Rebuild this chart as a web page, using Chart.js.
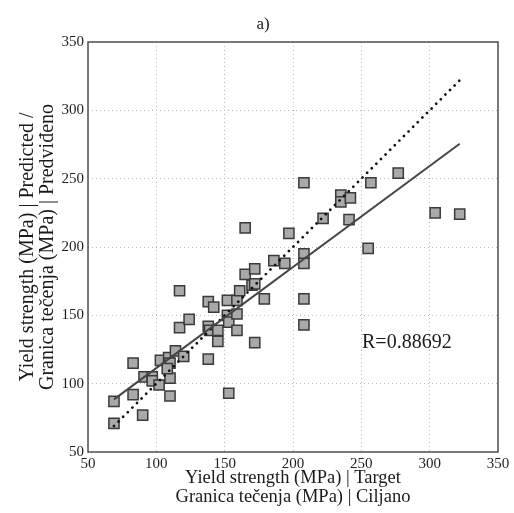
<!DOCTYPE html>
<html>
<head>
<meta charset="utf-8">
<script src="https://cdn.jsdelivr.net/npm/chart.js@4"></script>
<style>
  html, body { margin: 0; padding: 0; background: #ffffff; }
  #c { display: block; }
</style>
</head>
<body>
<canvas id="c" width="514" height="513"></canvas>
<script>
// ---- data ----
const targetX = [69,69,83,83,90,91,97,97,102,103,109,110,110,110,108,114,117,117,120,124,138,138,138,139,142,145,145,153,152,152,153,159,159,159,161,165,165,172,170,172,172,179,186,194,197,208,208,208,208,208,222,235,235,242,241,257,255,277,304,322];
const predictedY = [87,71,115,92,77,105,105,102,99,117,119,115,104,91,111,124,168,141,120,147,118,160,142,139,156,139,131,93,161,150,145,139,151,161,168,180,214,184,172,173,130,162,190,188,210,247,195,188,162,143,221,238,233,236,220,247,199,254,225,224];
const fitLineX = [69, 322];
const fitLineY = [88.5, 275.5];
const idealLineX = [69, 322];
const idealLineY = [69, 322];
const tickValues = [50, 100, 150, 200, 250, 300, 350];
const panelTitle = 'a)';
const rLabel = 'R=0.88692';
const rLabelPos = [250.5, 126];
const xTitle = ['Yield strength (MPa) | Target', 'Granica tečenja (MPa) | Ciljano'];
const yTitle = ['Yield strength (MPa) | Predicted /', 'Granica tečenja (MPa) | Predviđeno'];

const serif = "'Liberation Serif', 'DejaVu Serif', serif";

const points = targetX.map((x, i) => ({ x: x, y: predictedY[i] }));
const fitLine = fitLineX.map((x, i) => ({ x: x, y: fitLineY[i] }));
const idealLine = idealLineX.map((x, i) => ({ x: x, y: idealLineY[i] }));

const decorPlugin = {
  id: 'decor',
  afterDatasetsDraw(chart) {
    const ctx = chart.ctx;
    const a = chart.chartArea;
    ctx.save();
    ctx.strokeStyle = '#505050';
    ctx.lineWidth = 1.5;
    ctx.strokeRect(a.left, a.top, a.right - a.left, a.bottom - a.top);
    ctx.fillStyle = '#1a1a1a';
    ctx.font = '20px ' + serif;
    ctx.textBaseline = 'alphabetic';
    ctx.textAlign = 'left';
    ctx.fillText(rLabel, chart.scales.x.getPixelForValue(rLabelPos[0]), chart.scales.y.getPixelForValue(rLabelPos[1]));
    ctx.font = '17px ' + serif;
    ctx.textAlign = 'center';
    ctx.fillText(panelTitle, 263, 29);
    ctx.restore();
  }
};

new Chart(document.getElementById('c'), {
  data: {
    datasets: [
      {
        type: 'line',
        data: fitLine,
        borderColor: '#454545',
        borderWidth: 2,
        pointRadius: 0,
        fill: false,
        order: 0
      },
      {
        type: 'line',
        data: idealLine,
        borderColor: '#111111',
        borderWidth: 2.8,
        borderDash: [0.01, 6.5],
        borderCapStyle: 'round',
        pointRadius: 0,
        fill: false,
        order: 0
      },
      {
        type: 'scatter',
        data: points,
        pointStyle: 'rect',
        pointRadius: 7.2,
        backgroundColor: '#a9a9a9',
        borderColor: '#3a3a3a',
        borderWidth: 1.5,
        order: 1
      }
    ]
  },
  options: {
    responsive: false,
    animation: false,
    layout: { padding: { left: 0, right: 16, top: 42, bottom: 0 } },
    plugins: { legend: { display: false }, tooltip: { enabled: false }, title: { display: false } },
    scales: {
      x: {
        type: 'linear',
        position: 'bottom',
        min: 50,
        max: 350,
        afterBuildTicks: (s) => { s.ticks = tickValues.map(v => ({ value: v })); },
        afterFit: (s) => { s.height = 61; },
        ticks: { padding: 3, color: '#1e1e1e', font: { family: serif, size: 15 } },
        grid: { color: '#b8b8b8', lineWidth: 1, drawTicks: false },
        border: { display: false, dash: [1, 3] },
        title: {
          display: true,
          text: xTitle,
          color: '#1a1a1a',
          font: { family: serif, size: 18.5, lineHeight: '19.5px' },
          padding: { top: 0, bottom: 6 }
        }
      },
      y: {
        type: 'linear',
        min: 50,
        max: 350,
        afterBuildTicks: (s) => { s.ticks = tickValues.map(v => ({ value: v })); },
        afterFit: (s) => { s.width = 88; },
        ticks: { padding: 4, color: '#1e1e1e', font: { family: serif, size: 15 } },
        grid: { color: '#b8b8b8', lineWidth: 1, drawTicks: false },
        border: { display: false, dash: [1, 3] },
        title: {
          display: true,
          text: yTitle,
          color: '#1a1a1a',
          font: { family: serif, size: 20, lineHeight: '20px' },
          padding: { top: 17.5, bottom: 0 }
        }
      }
    }
  },
  plugins: [decorPlugin]
});
</script>
</body>
</html>
